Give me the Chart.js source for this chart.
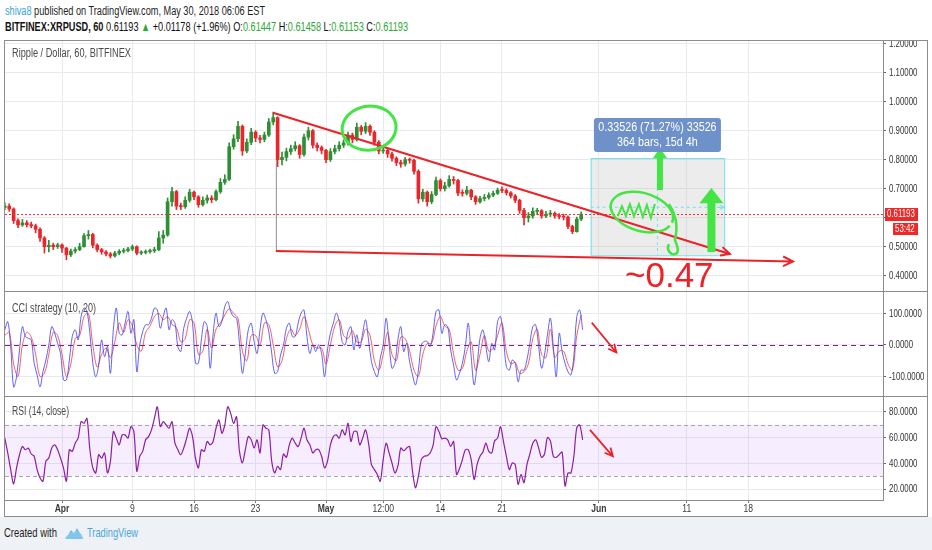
<!DOCTYPE html>
<html>
<head>
<meta charset="utf-8">
<title>Ripple / Dollar, 60, BITFINEX</title>
<script src="https://cdn.jsdelivr.net/npm/chart.js@4.4.0/dist/chart.umd.min.js"></script>
<style>
  html, body { margin: 0; padding: 0; }
  body {
    width: 932px; height: 550px; position: relative; overflow: hidden; background: #fff;
    font-family: 'Liberation Sans', Arial, sans-serif;
  }
  .abs { position: absolute; }
  .fit { transform-origin: left center; white-space: nowrap; }
  #foot { left: 0; top: 517px; width: 932px; height: 33px; background: #eef1f5; }
  #frame { left: 4px; top: 40px; width: 922px; height: 475px; border: 1px solid #8c8c8c; background: #fff; }
  .sep { left: 5px; width: 922px; height: 1px; background: #8c8c8c; }
  .hdr { left: 5px; font-size: 12.5px; color: #1e1e1e; }
  .g { color: #2ea836; }
  .pane-title { left: 12px; font-size: 12.5px; color: #4a4a4a; z-index: 2; }
  canvas { position: absolute; }
</style>
</head>
<body>
<div class="abs" id="foot"></div>
<div class="abs hdr fit" data-w="260" style="top:4px"><span style="color:#3aa3dc">shiva8</span> published on TradingView.com, May 30, 2018 06:06 EST</div>
<div class="abs hdr fit" data-w="403" style="top:20px;color:#111"><b>BITFINEX:XRPUSD, 60</b> 0.61193 <span class="g">&#9650;</span> +0.01178 (+1.96%) O:<span class="g">0.61447</span> H:<span class="g">0.61458</span> L:<span class="g">0.61153</span> C:<span class="g">0.61193</span></div>

<div class="abs" id="frame"></div>
<canvas id="priceChart" width="922" height="250" style="left:5px;top:41px;width:922px;height:250px"></canvas>
<div class="abs sep" style="top:291px"></div>
<canvas id="cciChart" width="922" height="104" style="left:5px;top:292px;width:922px;height:104px"></canvas>
<div class="abs sep" style="top:396px"></div>
<canvas id="rsiChart" width="922" height="119" style="left:5px;top:397px;width:922px;height:119px"></canvas>

<div class="abs pane-title fit" data-w="119" style="top:46px">Ripple / Dollar, 60, BITFINEX</div>
<div class="abs pane-title fit" data-w="84" style="top:301px">CCI strategy (10, 20)</div>
<div class="abs pane-title fit" data-w="57" style="top:404px">RSI (14, close)</div>

<div class="abs fit" data-w="53" style="left:4px;top:525px;font-size:13px;color:#1e1e1e">Created with</div>
<svg class="abs" style="left:64px;top:526px" width="20" height="15" viewBox="0 0 20 15">
  <path d="M2 13 L7 4 L10 8 L13 2 L19 13 Z" fill="#66b7e6"/>
  <path d="M1 13 Q1 9 5 9 Q6 5 10 6 Q13 3 16 7 Q19 8 19 13 Z" fill="#8fcaee" opacity="0.7"/>
</svg>
<div class="abs fit" data-w="51" style="left:87px;top:525px;font-size:13px;color:#4aa6dc">TradingView</div>

<script>
// x values are days counted from Apr 1 (00:00)
const dateTicks = [0, 8, 15, 22, 30, 36.5, 43, 50, 61, 71, 78];
const dateLabels = ['Apr', '9', '16', '23', 'May', '12:00', '14', '21', 'Jun', '11', '18'];
const monthLabels = ['Apr', 'May', 'Jun'];

const priceTicks = [0.4, 0.5, 0.6, 0.7, 0.8, 0.9, 1.0, 1.1, 1.2];
const cciTicks = [-100, 0, 100];
const rsiTicks = [20, 40, 60, 80];

// 12h candles starting Mar 25 12:00
const candleStart = -6.5;
const firstOpen = 0.635;
const closes = [
  0.640, 0.630, 0.590, 0.575, 0.582, 0.576, 0.572, 0.560, 0.530, 0.500,
  0.505, 0.500, 0.506, 0.495, 0.472, 0.485, 0.490, 0.500, 0.538, 0.542,
  0.505, 0.490, 0.482, 0.475, 0.468, 0.478, 0.484, 0.487, 0.492, 0.500,
  0.478, 0.480, 0.483, 0.486, 0.490, 0.530, 0.540, 0.655, 0.690, 0.640,
  0.638, 0.660, 0.688, 0.672, 0.645, 0.660, 0.668, 0.662, 0.690, 0.722,
  0.732, 0.845, 0.872, 0.915, 0.830, 0.860, 0.895, 0.875, 0.870, 0.885,
  0.930, 0.945, 0.800, 0.808, 0.828, 0.838, 0.848, 0.818, 0.878, 0.900,
  0.850, 0.842, 0.832, 0.800, 0.828, 0.838, 0.850, 0.858, 0.885, 0.870,
  0.912, 0.898, 0.915, 0.895, 0.860, 0.830, 0.832, 0.820, 0.805, 0.790,
  0.785, 0.800, 0.798, 0.760, 0.665, 0.688, 0.655, 0.680, 0.728, 0.700,
  0.710, 0.732, 0.728, 0.685, 0.684, 0.695, 0.672, 0.655, 0.666, 0.670,
  0.678, 0.684, 0.695, 0.694, 0.686, 0.675, 0.660, 0.625, 0.600, 0.606,
  0.622, 0.624, 0.606, 0.612, 0.615, 0.606, 0.604, 0.602, 0.570, 0.552,
  0.595, 0.612
];
const highs = [
  0.652, 0.648, 0.634, 0.596, 0.594, 0.590, 0.585, 0.578, 0.565, 0.535,
  0.522, 0.512, 0.512, 0.510, 0.498, 0.492, 0.497, 0.512, 0.545, 0.556,
  0.546, 0.510, 0.494, 0.487, 0.480, 0.484, 0.490, 0.494, 0.498, 0.506,
  0.503, 0.486, 0.489, 0.492, 0.498, 0.552, 0.556, 0.668, 0.705, 0.694,
  0.650, 0.672, 0.698, 0.692, 0.676, 0.672, 0.678, 0.676, 0.696, 0.735,
  0.748, 0.858, 0.886, 0.932, 0.920, 0.872, 0.908, 0.900, 0.884, 0.895,
  0.942, 0.964, 0.948, 0.826, 0.840, 0.850, 0.862, 0.852, 0.888, 0.912,
  0.904, 0.858, 0.848, 0.836, 0.838, 0.850, 0.862, 0.868, 0.895, 0.892,
  0.926, 0.918, 0.928, 0.920, 0.900, 0.866, 0.845, 0.840, 0.826, 0.810,
  0.798, 0.808, 0.806, 0.802, 0.765, 0.698, 0.692, 0.690, 0.740, 0.734,
  0.722, 0.745, 0.742, 0.732, 0.696, 0.708, 0.698, 0.676, 0.674, 0.680,
  0.686, 0.692, 0.702, 0.706, 0.700, 0.690, 0.680, 0.664, 0.632, 0.618,
  0.634, 0.632, 0.628, 0.622, 0.625, 0.620, 0.614, 0.612, 0.606, 0.574,
  0.602, 0.620
];
const lows = [
  0.628, 0.622, 0.580, 0.566, 0.570, 0.568, 0.565, 0.548, 0.518, 0.478,
  0.482, 0.490, 0.494, 0.480, 0.455, 0.466, 0.478, 0.486, 0.498, 0.526,
  0.496, 0.482, 0.474, 0.468, 0.461, 0.464, 0.472, 0.478, 0.482, 0.486,
  0.472, 0.473, 0.475, 0.478, 0.480, 0.486, 0.512, 0.536, 0.640, 0.628,
  0.628, 0.632, 0.654, 0.662, 0.636, 0.640, 0.650, 0.652, 0.658, 0.684,
  0.715, 0.728, 0.836, 0.862, 0.815, 0.824, 0.852, 0.862, 0.858, 0.862,
  0.880, 0.920, 0.776, 0.782, 0.796, 0.818, 0.830, 0.805, 0.812, 0.868,
  0.840, 0.830, 0.820, 0.790, 0.794, 0.820, 0.830, 0.842, 0.850, 0.858,
  0.864, 0.886, 0.890, 0.884, 0.850, 0.820, 0.822, 0.808, 0.795, 0.780,
  0.774, 0.778, 0.788, 0.750, 0.650, 0.656, 0.640, 0.648, 0.676, 0.692,
  0.692, 0.705, 0.716, 0.676, 0.674, 0.678, 0.662, 0.646, 0.650, 0.658,
  0.664, 0.672, 0.680, 0.686, 0.678, 0.668, 0.652, 0.615, 0.575, 0.585,
  0.598, 0.610, 0.598, 0.600, 0.604, 0.598, 0.596, 0.592, 0.562, 0.545,
  0.550, 0.590
];
const lastPrice = 0.61193;

// indicators sampled every 8h from the same start
const indStep = 1 / 3;
const cciFast = [
  48, 74, -5, -133, -101, -16, 58, 27, 21, 16,
  -58, -95, -133, -85, -48, 0, 58, 37, 5, -27,
  -111, -111, -48, 27, 48, 16, 90, 117, 106, 37,
  -58, -101, -64, 16, -37, -5, -90, 48, 117, 37,
  32, 69, 106, 37, 80, -85, 0, 42, 64, 64,
  85, 117, 111, 53, 90, 117, 48, 80, 69, -5,
  -21, 53, 85, 106, 69, -58, -58, 16, 74, 58,
  -74, 32, 101, 58, 74, 122, 138, 106, 90, 85,
  5, -90, -27, 48, 69, 11, -27, 48, 101, 80,
  42, -27, -90, -85, -32, 0, 53, 69, 27, 27,
  69, 101, 111, 27, -27, 0, -21, 0, -27, -101,
  -16, 37, 69, 101, 74, 11, 0, 42, 58, -16,
  32, -11, 37, 80, 16, -53, -85, -101, -42, 0,
  85, 5, -74, -58, 16, 58, -21, 5, -53, -95,
  -127, -80, 0, 11, 11, -5, 37, 106, 111, 37,
  64, 58, -16, -64, -111, -90, -58, -5, 69, -37,
  -127, -64, 21, 48, -5, -53, 5, -16, 74, 90,
  21, -69, -80, -48, -58, -117, -80, -80, -48, 5,
  58, 64, -5, -74, -32, 32, 85, -5, -101, 37,
  -21, -58, -85, -95, -37, 90, 111, 48
];
// signal line, every 12h
const cciSlow = [
  30, 40, -60, -100, 0, 40, 25, -30, -100, -90,
  -30, 40, 30, -30, -100, -60, 20, 30, 90, 100,
  0, -70, -30, -10, -40, 10, 70, 40, 80, 60,
  0, -20, 40, 60, 90, 100, 80, 90, 65, 55,
  10, 20, 80, 70, -30, -20, 50, -10, 50, 70,
  95, 115, 100, 85, -20, -50, 30, 30, 0, 70,
  65, 0, -70, -50, 20, 50, 30, 50, 90, 50,
  0, -10, -10, -60, 0, 60, 80, 30, 20, 45,
  10, 10, 50, 30, -50, -80, -30, 40, -30, -50,
  25, 20, -20, -80, -100, -30, 5, 5, 60, 90,
  60, 50, -30, -80, -75, -20, 10, -80, -30, 30,
  -20, -10, 30, 70, -20, -60, -55, -90, -85, -60,
  20, 50, -30, -40, 50, -40, -20, -20, -60, -80,
  30, 95
];
const rsi = [
  59.5, 48, 35, 24, 36.4, 46.6, 53, 50.5, 51.8, 47.2,
  45.4, 35.1, 28.7, 26.1, 41.5, 44, 51.8, 54.3, 50.5, 44,
  36.4, 26.1, 50.5, 49.2, 55.6, 59.5, 72.3, 71, 74.8, 50.5,
  36.4, 32.5, 46.6, 44, 48, 32.5, 41.5, 64.6, 59.5, 54.3,
  62, 62, 59.5, 68.4, 64.6, 33.8, 45.4, 49.2, 58.2, 60.7,
  65.9, 74.8, 83.8, 68.4, 72.3, 69.7, 67.2, 72.3, 55.6, 50.5,
  46.6, 51.8, 59.5, 67.2, 60.7, 44, 36.4, 50.5, 49.2, 56.9,
  54.3, 56.9, 67.2, 73.6, 63.3, 69.7, 83.8, 78.7, 71, 76.1,
  49.2, 40.2, 50.5, 60.7, 58.2, 51.8, 58.2, 48, 69.7, 67.2,
  65.9, 41.5, 32.5, 37.7, 35.1, 47.2, 44.6, 54.3, 59.5, 55.6,
  53, 59.5, 67.2, 58.2, 54.3, 48, 50.5, 50.5, 45.4, 36.4,
  41.5, 54.3, 60.7, 62, 59.5, 65.9, 62, 71, 56.9, 64.6,
  64.6, 54.3, 59.5, 65.9, 55.6, 38.9, 35.1, 31.3, 26.1, 42.8,
  55.6, 48, 40.2, 32.5, 37.7, 51.8, 49.7, 51.8, 53, 33.8,
  21, 30, 42.8, 45.4, 45.9, 48, 53.8, 68.4, 64.6, 59,
  59.5, 58.2, 53, 56.9, 31.3, 35.9, 42.8, 50.5, 50.5, 42.8,
  27.4, 39, 45.4, 48.7, 55.6, 49.2, 48, 57.4, 59.5, 68.4,
  56.9, 45.4, 35.1, 40.2, 39, 23.6, 31.3, 24.9, 39, 47.2,
  55.6, 58.2, 51.8, 44.6, 47.2, 60, 57.4, 45.4, 44.6, 46.6,
  48.7, 22.3, 32.5, 32.5, 45.4, 67.7, 69.7, 58.2
];

// drawings on the price pane (days, price)
const upperTrend = [[23.98, 0.962], [75.9, 0.475]];
const lowerTrend = [[24.3, 0.485], [83.07, 0.449]];
const measure = { t0: 60.08, t1: 75.25, lo: 0.4705, hi: 0.8057 };

const UP = '#2f8f34', DOWN = '#e8262b', RED = '#ec2227', GREEN = '#45e445';
const FONT = "'Liberation Sans', Arial, sans-serif";
const NARROW = 0.78;
const X_MIN = -6.48, X_MAX = 93.3;
const GRID = '#e7ebef';

Chart.defaults.font.family = FONT;
Chart.defaults.animation = false;

// squeeze html labels to the width they have in the original
document.querySelectorAll('.fit').forEach(el => {
  const w = el.getBoundingClientRect().width;
  el.style.transform = 'scaleX(' + (el.dataset.w / w) + ')';
});

const opens = closes.map((c, i) => i === 0 ? firstOpen : closes[i - 1]);
const candleTimes = closes.map((c, i) => candleStart + i * 0.5);
const candleColors = closes.map((c, i) => c >= opens[i] ? UP : DOWN);

function narrowText(ctx, text, x, y, size, weight, color, align, squeeze) {
  ctx.save();
  ctx.font = weight + ' ' + size + 'px ' + FONT;
  ctx.fillStyle = color;
  ctx.textBaseline = 'middle';
  ctx.textAlign = align;
  ctx.translate(x, y);
  ctx.scale(squeeze || NARROW, 1);
  ctx.fillText(text, 0, 0);
  ctx.restore();
}

function xScale(showLabels) {
  return {
    type: 'linear', min: X_MIN, max: X_MAX, offset: false,
    afterBuildTicks: s => { s.ticks = dateTicks.map(v => ({ value: v })); },
    afterFit: s => { s.height = showLabels ? 16 : 0; },
    grid: { color: GRID, offset: false, drawTicks: showLabels, tickLength: 3, tickColor: '#777' },
    border: { display: showLabels, color: '#8c8c8c' },
    ticks: { display: false }
  };
}

function yScale(min, max, ticks) {
  return {
    position: 'right', min: min, max: max,
    afterBuildTicks: s => { s.ticks = ticks.map(v => ({ value: v })); },
    afterFit: s => { s.width = 44; },
    grid: { color: GRID, tickLength: 3, tickColor: '#666' },
    border: { color: '#8c8c8c' },
    ticks: { display: false }
  };
}

// axis labels drawn by hand so they can be narrowed like the original font
const axisText = {
  id: 'axisText',
  afterDraw(chart, args, opts) {
    const { ctx } = chart;
    const ys = chart.scales.y;
    ys.ticks.forEach(t => {
      narrowText(ctx, t.value.toFixed(opts.digits), ys.left + 6, ys.getPixelForValue(t.value) + 0.5, 10.5, 'normal', '#333', 'left', 0.75);
    });
    if (opts.dates) {
      const xs = chart.scales.x;
      dateTicks.forEach((v, i) => {
        const bold = monthLabels.includes(dateLabels[i]);
        narrowText(ctx, dateLabels[i], xs.getPixelForValue(v), xs.top + 9, 11, bold ? 'bold' : 'normal', '#3a3a3a', 'center');
      });
    }
  }
};

function clipArea(ctx, a) {
  ctx.beginPath();
  ctx.rect(a.left, a.top, a.right - a.left, a.bottom - a.top);
  ctx.clip();
}

function lineArrow(ctx, x1, y1, x2, y2, head, color, width) {
  const a = Math.atan2(y2 - y1, x2 - x1);
  ctx.strokeStyle = color;
  ctx.lineWidth = width;
  ctx.beginPath();
  ctx.moveTo(x1, y1);
  ctx.lineTo(x2, y2);
  ctx.moveTo(x2 - head * Math.cos(a - 0.45), y2 - head * Math.sin(a - 0.45));
  ctx.lineTo(x2, y2);
  ctx.lineTo(x2 - head * Math.cos(a + 0.45), y2 - head * Math.sin(a + 0.45));
  ctx.stroke();
}

function blockArrow(ctx, x, yBottom, yBase, yTip, shaftW, headW) {
  ctx.fillStyle = GREEN;
  ctx.beginPath();
  ctx.moveTo(x - shaftW / 2, yBottom);
  ctx.lineTo(x - shaftW / 2, yBase);
  ctx.lineTo(x - headW / 2, yBase);
  ctx.lineTo(x, yTip);
  ctx.lineTo(x + headW / 2, yBase);
  ctx.lineTo(x + shaftW / 2, yBase);
  ctx.lineTo(x + shaftW / 2, yBottom);
  ctx.closePath();
  ctx.fill();
}

const priceDrawings = {
  id: 'priceDrawings',
  afterDatasetsDraw(chart) {
    const { ctx, chartArea } = chart;
    const X = t => chart.scales.x.getPixelForValue(t);
    const Y = v => chart.scales.y.getPixelForValue(v);
    ctx.save();
    clipArea(ctx, chartArea);

    // date range / price range box
    const bx1 = X(measure.t0), bx2 = X(measure.t1), by1 = Y(measure.hi), by2 = Y(measure.lo);
    ctx.fillStyle = 'rgba(185,185,185,0.28)';
    ctx.fillRect(bx1, by1, bx2 - bx1, by2 - by1);
    ctx.strokeStyle = '#72e2e8';
    ctx.lineWidth = 1;
    ctx.strokeRect(bx1 + 0.5, by1 + 0.5, bx2 - bx1, by2 - by1);
    const midY = Y(0.636), midX = (bx1 + bx2) / 2;
    ctx.setLineDash([3, 3]);
    ctx.beginPath();
    ctx.moveTo(bx1, midY); ctx.lineTo(bx2, midY);
    ctx.moveTo(midX, by1); ctx.lineTo(midX, by2);
    ctx.stroke();
    ctx.setLineDash([]);
    lineArrow(ctx, bx2 - 6, midY, bx2, midY, 5, '#72e2e8', 1);

    // last price line
    ctx.strokeStyle = '#f23030';
    ctx.lineWidth = 1;
    ctx.setLineDash([2, 2]);
    ctx.beginPath();
    ctx.moveTo(chartArea.left, Math.round(Y(lastPrice)) + 0.5);
    ctx.lineTo(chartArea.right, Math.round(Y(lastPrice)) + 0.5);
    ctx.stroke();
    ctx.setLineDash([]);

    // grey vertical from the top down to the lower line
    ctx.strokeStyle = '#8e8e8e';
    ctx.beginPath();
    ctx.moveTo(X(lowerTrend[0][0]) + 0.5, Y(0.80));
    ctx.lineTo(X(lowerTrend[0][0]) + 0.5, Y(lowerTrend[0][1]));
    ctx.stroke();

    // trend lines
    lineArrow(ctx, X(upperTrend[0][0]), Y(upperTrend[0][1]), X(upperTrend[1][0]), Y(upperTrend[1][1]), 10, RED, 2);
    lineArrow(ctx, X(lowerTrend[0][0]), Y(lowerTrend[0][1]), X(lowerTrend[1][0]), Y(lowerTrend[1][1]), 11, RED, 2);

    // green circle on the May high
    ctx.strokeStyle = GREEN;
    ctx.lineWidth = 3;
    ctx.beginPath();
    ctx.ellipse(X(34.9), Y(0.909), 27, 22, -0.12, 0.4, Math.PI * 2 + 0.7);
    ctx.stroke();

    // scribble inside the box
    const cx = X(65.9), cy = Y(0.6193);
    ctx.lineWidth = 2.5;
    ctx.beginPath();
    ctx.ellipse(cx, cy, 32, 19, 0.28, 0.3, Math.PI * 2 + 0.1);
    ctx.stroke();
    ctx.lineWidth = 2;
    ctx.beginPath();
    ctx.moveTo(cx - 24, cy + 4);
    [[-20, -6], [-16, 4], [-12, -8], [-8, 4], [-3, -8], [1, 5], [5, -7], [9, 6], [13, -8]]
      .forEach(p => ctx.lineTo(cx + p[0], cy + p[1]));
    ctx.stroke();
    ctx.lineWidth = 2.5;
    ctx.beginPath();
    ctx.moveTo(cx + 27, cy - 8);
    ctx.quadraticCurveTo(cx + 38, cy + 8, cx + 33, cy + 28);
    ctx.quadraticCurveTo(cx + 40, cy + 44, cx + 30, cy + 42);
    ctx.quadraticCurveTo(cx + 24, cy + 38, cx + 27, cy + 32);
    ctx.stroke();

    // green arrows
    const labelBottom = by1 - 6;
    blockArrow(ctx, X(67.95), Y(0.6955), labelBottom + 6, labelBottom - 4, 6, 14);
    blockArrow(ctx, X(73.8), Y(0.482), Y(0.650), Y(0.702), 8, 24);

    // measurement label
    const lw = 127, lh = 34;
    ctx.fillStyle = '#6d91c8';
    ctx.beginPath();
    ctx.roundRect(midX - lw / 2, labelBottom - lh, lw, lh, 3);
    ctx.fill();
    narrowText(ctx, '0.33526 (71.27%) 33526', midX, labelBottom - lh + 10, 12.5, 'normal', '#fff', 'center', 0.86);
    narrowText(ctx, '364 bars, 15d 4h', midX, labelBottom - lh + 25, 12.5, 'normal', '#fff', 'center', 0.86);

    // target note
    ctx.fillStyle = RED;
    ctx.font = '35px ' + FONT;
    ctx.textAlign = 'left';
    ctx.textBaseline = 'alphabetic';
    ctx.fillText('~0.47', X(63.98), Y(0.361));
    ctx.restore();
  },
  afterDraw(chart) {
    const { ctx, chartArea } = chart;
    const y = Math.round(chart.scales.y.getPixelForValue(lastPrice));
    const x0 = chartArea.right;
    ctx.save();
    ctx.fillStyle = '#f02828';
    ctx.fillRect(x0 + 2, y - 6, 33, 13);
    ctx.fillRect(x0 + 10, y + 9, 25, 12);
    ctx.restore();
    narrowText(ctx, lastPrice.toFixed(5), x0 + 4, y + 0.5, 10.5, 'normal', '#fff', 'left', 0.75);
    narrowText(ctx, '53:42', x0 + 12, y + 15.5, 10.5, 'normal', '#fff', 'left', 0.75);
  }
};

new Chart(document.getElementById('priceChart'), {
  type: 'bar',
  data: {
    datasets: [
      {
        data: candleTimes.map((t, i) => ({ x: t, y: [lows[i], highs[i]] })),
        backgroundColor: candleColors, barThickness: 1, grouped: false
      },
      {
        data: candleTimes.map((t, i) => ({ x: t, y: [opens[i], closes[i]] })),
        backgroundColor: candleColors, barThickness: 3, minBarLength: 1, grouped: false
      }
    ]
  },
  options: {
    responsive: false,
    layout: { padding: 0 },
    plugins: { legend: { display: false }, tooltip: { enabled: false }, axisText: { digits: 5 } },
    scales: { x: xScale(false), y: yScale(0.3472, 1.2093, priceTicks) }
  },
  plugins: [axisText, priceDrawings]
});

const cciDrawings = {
  id: 'cciDrawings',
  afterDatasetsDraw(chart) {
    const { ctx, chartArea } = chart;
    const X = t => chart.scales.x.getPixelForValue(t);
    const Y = v => chart.scales.y.getPixelForValue(v);
    ctx.save();
    clipArea(ctx, chartArea);
    ctx.strokeStyle = '#8a1c8a';
    ctx.lineWidth = 1;
    ctx.setLineDash([5, 4]);
    ctx.beginPath();
    ctx.moveTo(chartArea.left, Math.round(Y(0)) + 0.5);
    ctx.lineTo(chartArea.right, Math.round(Y(0)) + 0.5);
    ctx.stroke();
    ctx.setLineDash([]);
    lineArrow(ctx, X(60.2), Y(70.8), X(63.0), Y(-24), 9, RED, 1.8);
    ctx.restore();
  }
};

new Chart(document.getElementById('cciChart'), {
  type: 'line',
  data: {
    datasets: [
      {
        data: cciFast.map((v, i) => ({ x: candleStart + i * indStep, y: v })),
        borderColor: 'rgba(60,60,245,0.8)', borderWidth: 1, pointRadius: 0, tension: 0.35
      },
      {
        data: cciSlow.map((v, i) => ({ x: candleStart + i * 0.5, y: v })),
        borderColor: 'rgba(240,70,70,0.85)', borderWidth: 1, pointRadius: 0, tension: 0.35
      }
    ]
  },
  options: {
    responsive: false,
    layout: { padding: 0 },
    plugins: { legend: { display: false }, tooltip: { enabled: false }, axisText: { digits: 4 } },
    scales: { x: xScale(false), y: yScale(-162, 168, cciTicks) }
  },
  plugins: [axisText, cciDrawings]
});

const rsiDrawings = {
  id: 'rsiDrawings',
  beforeDatasetsDraw(chart) {
    const { ctx, chartArea } = chart;
    const Y = v => chart.scales.y.getPixelForValue(v);
    ctx.save();
    ctx.fillStyle = 'rgba(175,90,255,0.11)';
    ctx.fillRect(chartArea.left, Y(70), chartArea.right - chartArea.left, Y(30) - Y(70));
    ctx.strokeStyle = '#a7a7a7';
    ctx.lineWidth = 1;
    ctx.setLineDash([4, 3]);
    [70, 30].forEach(v => {
      ctx.beginPath();
      ctx.moveTo(chartArea.left, Math.round(Y(v)) + 0.5);
      ctx.lineTo(chartArea.right, Math.round(Y(v)) + 0.5);
      ctx.stroke();
    });
    ctx.restore();
  },
  afterDatasetsDraw(chart) {
    const { ctx, chartArea } = chart;
    const X = t => chart.scales.x.getPixelForValue(t);
    const Y = v => chart.scales.y.getPixelForValue(v);
    ctx.save();
    clipArea(ctx, chartArea);
    lineArrow(ctx, X(60.0), Y(65.9), X(62.6), Y(45.4), 9, RED, 1.8);
    ctx.restore();
  }
};

new Chart(document.getElementById('rsiChart'), {
  type: 'line',
  data: {
    datasets: [{
      data: rsi.map((v, i) => ({ x: candleStart + i * indStep, y: v })),
      borderColor: '#8c1fa3', borderWidth: 1.2, pointRadius: 0, tension: 0.3
    }]
  },
  options: {
    responsive: false,
    layout: { padding: 0 },
    plugins: { legend: { display: false }, tooltip: { enabled: false }, axisText: { digits: 4, dates: true } },
    scales: { x: xScale(true), y: yScale(11.5, 91.4, rsiTicks) }
  },
  plugins: [axisText, rsiDrawings]
});
</script>
</body>
</html>
